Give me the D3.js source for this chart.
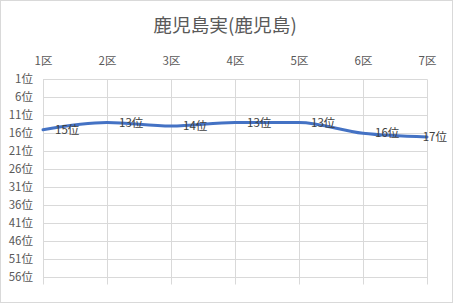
<!DOCTYPE html>
<html>
<head>
<meta charset="utf-8">
<script src="https://cdn.jsdelivr.net/npm/d3@7"></script>
<style>
  body { margin: 0; background: #fff; }
  svg text { font-family: "Noto Sans CJK JP", "Noto Sans", sans-serif; }
</style>
</head>
<body>
<div id="chart"></div>
<script>
// data
const title = "鹿児島実(鹿児島)";
const sections = ["1区", "2区", "3区", "4区", "5区", "6区", "7区"];
const ranks = [15, 13, 14, 13, 13, 16, 17];
const rankTicks = [1, 6, 11, 16, 21, 26, 31, 36, 41, 46, 51, 56];
const rankMax = 58;

const width = 453;
const height = 303;

const svg = d3.select("#chart")
    .append("svg")
    .attr("width", width)
    .attr("height", height);

// outer border
svg.append("rect")
    .attr("x", 0.5).attr("y", 0.5)
    .attr("width", width - 1).attr("height", height - 1)
    .attr("fill", "#fff")
    .attr("stroke", "#D9D9D9");

const x = d3.scalePoint().domain(sections).range([43, 427]);
const y = d3.scaleLinear().domain([1, rankMax]).range([79.3, 79.3 + (rankMax - 1) * 3.6]);

// grid
svg.append("g")
    .selectAll("line")
    .data(rankTicks)
    .enter()
    .append("line")
    .attr("x1", x(sections[0])).attr("x2", x(sections[sections.length - 1]))
    .attr("y1", d => Math.round(y(d)) + 0.5).attr("y2", d => Math.round(y(d)) + 0.5)
    .attr("stroke", "#D9D9D9");

svg.append("g")
    .selectAll("line")
    .data(sections)
    .enter()
    .append("line")
    .attr("x1", d => Math.round(x(d)) + 0.5).attr("x2", d => Math.round(x(d)) + 0.5)
    .attr("y1", y(1)).attr("y2", y(rankMax))
    .attr("stroke", "#D9D9D9");

// axes
const xAxis = svg.append("g")
    .attr("transform", `translate(0, ${y(1)})`)
    .call(d3.axisTop(x).tickSize(0).tickPadding(14));

const yAxis = svg.append("g")
    .attr("transform", `translate(${x(sections[0])}, 0)`)
    .call(d3.axisLeft(y).tickValues(rankTicks).tickSize(0).tickPadding(10).tickFormat(d => d + "位"));

[xAxis, yAxis].forEach(a => {
  a.select(".domain").remove();
  a.selectAll("text")
      .attr("fill", "#595959")
      .style("font-size", "11.5px");
});

// title
svg.append("text")
    .attr("x", 225)
    .attr("y", 32)
    .attr("text-anchor", "middle")
    .attr("fill", "#595959")
    .style("font-size", "18.7px")
    .text(title);

// line
const line = d3.line()
    .x((d, i) => x(sections[i]))
    .y(d => y(d))
    .curve(d3.curveMonotoneX);

svg.append("path")
    .datum(ranks)
    .attr("d", line)
    .attr("fill", "none")
    .attr("stroke", "#4472C4")
    .attr("stroke-width", 3)
    .attr("stroke-linecap", "round");

// data labels, kept inside the chart like Excel does
svg.append("g")
    .selectAll("text")
    .data(ranks)
    .enter()
    .append("text")
    .attr("y", d => y(d))
    .attr("dy", "0.35em")
    .attr("fill", "#404040")
    .style("font-size", "11.5px")
    .text(d => d + "位")
    .attr("x", function(d, i) {
      const w = this.getComputedTextLength();
      return Math.min(x(sections[i]) + 12, width - 6 - w);
    });
</script>
</body>
</html>
